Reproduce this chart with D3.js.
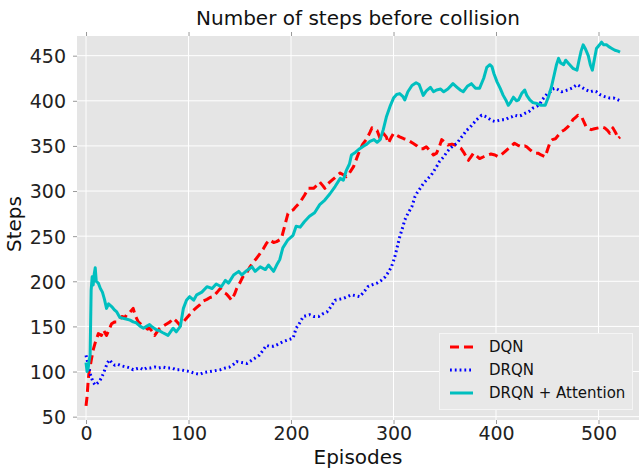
<!DOCTYPE html>
<html>
<head>
<meta charset="utf-8">
<script src="https://cdn.jsdelivr.net/npm/d3@7"></script>
<style>
  body { margin: 0; background: #fff; }
  text { font-family: "DejaVu Sans", sans-serif; }
</style>
</head>
<body>
<script>

var TITLE = "Number of steps before collision";
var X_LABEL = "Episodes";
var Y_LABEL = "Steps";

var xTicks = [0, 100, 200, 300, 400, 500];
var yTicks = [50, 100, 150, 200, 250, 300, 350, 400, 450];

var seriesNames = ["DQN", "DRQN", "DRQN + Attention"];

// DQN
var dqnEpisodes = [0,1,2,3,4,5,7,9,12,15,17,20,23,25,28,30,33,35,38,40,43,46,48,51,54,57,60,62,65,67,70,72,75,79,82,85,88,92,95,98,
    101,105,108,111,114,118,121,124,128,131,134,137,140,142,145,147,150,153,157,160,163,166,170,173,176,179,183,186,189,191,194,197,200,
    202,205,209,213,217,222,225,228,231,233,236,240,244,248,251,254,257,261,264,267,270,274,277,279,282,284,287,290,293,295,298,300,303,
    306,310,313,316,319,323,326,329,332,336,339,342,345,347,350,353,357,360,363,366,369,373,375,378,381,384,388,392,395,399,402,405,409,
    412,415,418,421,425,428,430,433,435,438,441,444,448,450,453,455,458,461,464,467,470,473,475,478,480,482,484,486,488,491,493,496,500,
    503,506,509,511,513,514,517,519,521];
var dqnSteps = [62,72,88,100,105,112,124,132,142,140,146,140,148,153,155,155,158,161,160,164,166,170,162,155,152,150,147,148,144,140,145,148,150,153,155,159,156,151,155,159,
    163,168,171,174,178,180,182,183,188,192,188,186,182,179,186,192,198,205,210,216,221,225,231,236,242,246,243,244,246,249,262,275,278,
    279,283,288,295,303,303,306,310,306,303,308,312,316,320,318,316,320,327,336,345,352,358,365,370,368,367,358,364,360,353,360,364,362,
    360,358,357,355,353,350,347,347,349,344,340,342,350,357,354,351,352,351,349,347,342,334,337,342,339,336,338,340,341,340,338,340,344,
    347,350,353,351,349,350,349,346,344,342,342,340,338,345,355,357,358,362,366,368,371,375,379,382,384,382,381,376,371,369,368,369,370,
    371,370,367,364,368,370,364,358,360];

// DRQN
var drqnEpisodes = [0,2,4,5,7,9,11,13,15,17,19,21,23,25,28,31,33,36,40,43,46,49,53,56,59,63,67,71,75,79,84,88,92,96,101,106,111,115,121,126,
    131,136,140,144,147,152,157,161,165,169,173,176,179,183,187,192,197,202,205,208,212,215,218,222,227,231,235,239,243,247,251,255,259,
    263,267,271,275,279,284,288,292,295,298,301,303,306,309,311,314,318,321,323,326,329,332,337,342,345,349,352,355,358,362,365,368,371,
    375,378,381,384,386,389,392,396,399,402,406,409,412,415,418,422,425,428,432,436,440,443,445,448,450,453,455,458,461,464,467,470,474,
    479,482,485,488,492,495,498,501,505,508,511,515,519,521];
var drqnSteps = [118,108,98,94,88,85,87,89,93,98,104,110,113,110,107,108,107,106,105,104,102,103,104,102,104,104,105,104,105,104,104,102,102,101,100,98,97,99,100,101,
    102,104,105,108,111,110,109,112,115,118,124,129,128,128,130,133,135,137,148,153,161,162,163,161,161,164,166,172,179,180,181,183,185,
    184,183,188,194,196,198,201,205,210,216,226,235,249,260,268,275,283,294,298,303,308,312,318,327,333,338,343,347,350,353,358,362,367,
    371,375,379,382,384,383,381,378,377,378,379,379,381,382,384,383,384,386,388,392,394,397,401,405,408,410,413,414,412,410,411,412,414,
    418,416,414,412,410,411,410,407,405,404,403,403,401,400];

// DRQN + Attention
var attEpisodes = [0,1,2,3,4,5,6,7,8,9,10,12,14,16,18,20,22,25,28,30,33,36,40,43,46,49,53,56,59,62,65,69,72,75,80,85,88,92,95,98,
    101,105,108,113,118,123,127,132,136,139,144,149,152,157,162,165,170,175,178,183,186,189,192,197,202,205,209,213,218,223,228,233,238,
    243,248,251,254,257,259,263,267,271,274,277,281,284,287,290,293,297,300,303,306,309,311,314,318,322,325,329,332,336,339,342,346,349,
    353,358,362,365,368,372,376,380,384,388,391,394,396,398,401,404,407,410,412,414,417,420,422,425,428,430,433,436,440,444,448,451,454,
    457,459,461,463,466,468,471,475,479,481,483,485,487,490,492,494,496,498,501,503,505,508,510,513,516,519,521];
var attSteps = [110,100,103,112,118,190,205,196,208,215,200,198,192,188,180,170,175,172,168,166,160,159,158,157,155,154,150,148,150,152,149,146,145,143,140,148,144,150,170,179,
    183,179,185,188,194,192,197,194,201,198,207,211,207,212,216,211,216,213,218,211,218,224,237,246,251,261,260,266,272,276,285,290,297,
    305,314,312,323,330,340,343,347,350,352,355,357,354,357,368,382,395,403,407,408,405,401,410,417,420,418,406,411,415,410,412,413,410,
    413,419,415,412,410,416,419,414,414,425,437,440,438,430,421,414,406,400,395,398,404,400,401,408,412,406,401,398,397,395,395,404,415,
    430,440,447,442,440,445,441,436,434,445,455,462,458,450,440,434,446,458,462,465,462,462,460,458,456,455,454];

var colors = ["#ff0000", "#0000ff", "#00bfbf"];
var dashes = ["9,5", "1.8,3", null];
var widths = [3, 3, 3];

var W = 639, H = 472;
var margin = { left: 77, right: 0, top: 36, bottom: 52 };

var svg = d3.select("body").append("svg")
    .attr("width", W)
    .attr("height", H);

var x = d3.scaleLinear()
    .domain([-8.8, 539.5])
    .range([margin.left, W - margin.right]);

var y = d3.scaleLinear()
    .domain([46.3, 471.8])
    .range([H - margin.bottom, margin.top]);

drawFrame();
drawLines();
drawLegend();

function drawFrame() {
    var x0 = x.range()[0], x1 = x.range()[1];
    var y0 = y.range()[0], y1 = y.range()[1];

    svg.append("rect")
        .attr("x", x0).attr("y", y1)
        .attr("width", x1 - x0).attr("height", y0 - y1)
        .attr("fill", "#e5e5e5");

    // grid
    svg.selectAll(".vgrid").data(xTicks).enter()
        .append("line")
        .attr("x1", function(d){ return x(d); })
        .attr("x2", function(d){ return x(d); })
        .attr("y1", y1).attr("y2", y0)
        .attr("stroke", "#fff").attr("stroke-width", 1);

    svg.selectAll(".hgrid").data(yTicks).enter()
        .append("line")
        .attr("x1", x0).attr("x2", x1)
        .attr("y1", function(d){ return y(d); })
        .attr("y2", function(d){ return y(d); })
        .attr("stroke", "#fff").attr("stroke-width", 1);

    // axes
    var xAxis = svg.append("g")
        .attr("transform", "translate(0," + y0 + ")")
        .call(d3.axisBottom(x).tickValues(xTicks).tickSize(4).tickPadding(4));
    var xTop = svg.append("g")
        .attr("transform", "translate(0," + y1 + ")")
        .call(d3.axisTop(x).tickValues(xTicks).tickSize(4).tickFormat(""));
    var yAxis = svg.append("g")
        .attr("transform", "translate(" + x0 + ",0)")
        .call(d3.axisLeft(y).tickValues(yTicks).tickSize(4).tickPadding(7));

    [xAxis, xTop, yAxis].forEach(function(g){
        g.select(".domain").remove();
        g.selectAll(".tick line").attr("stroke", "#999");
        g.selectAll(".tick text")
            .attr("fill", "#222")
            .style("font-size", "19px")
            .style("font-family", "DejaVu Sans");
    });
    xAxis.selectAll(".tick text").attr("dy", "0.71em").attr("y", 7);
    yAxis.selectAll(".tick text").attr("dy", "0.36em");

    svg.append("text")
        .attr("x", (x0 + x1) / 2).attr("y", 25)
        .attr("text-anchor", "middle")
        .attr("fill", "#111")
        .style("font-size", "20px")
        .text(TITLE);

    svg.append("text")
        .attr("x", (x0 + x1) / 2).attr("y", 464)
        .attr("text-anchor", "middle")
        .attr("fill", "#111")
        .style("font-size", "20px")
        .text(X_LABEL);

    svg.append("text")
        .attr("transform", "translate(21," + 224 + ") rotate(-90)")
        .attr("text-anchor", "middle")
        .attr("fill", "#111")
        .style("font-size", "20px")
        .text(Y_LABEL);

    svg.append("clipPath").attr("id", "plotclip")
        .append("rect")
        .attr("x", x0).attr("y", y1)
        .attr("width", x1 - x0).attr("height", y0 - y1);
}

function drawLines() {
    var eps = [dqnEpisodes, drqnEpisodes, attEpisodes];
    var vals = [dqnSteps, drqnSteps, attSteps];

    var line = d3.line()
        .x(function(d){ return x(d[0]); })
        .y(function(d){ return y(d[1]); });

    var g = svg.append("g").attr("clip-path", "url(#plotclip)");

    for (var i = 0; i < seriesNames.length; i++) {
        var pts = eps[i].map(function(e, j){ return [e, vals[i][j]]; });
        g.append("path")
            .datum(pts)
            .attr("d", line)
            .attr("fill", "none")
            .attr("stroke", colors[i])
            .attr("stroke-width", widths[i])
            .attr("stroke-dasharray", dashes[i])
            .attr("stroke-linejoin", "round");
    }
}

function drawLegend() {
    var lg = svg.append("g");
    lg.append("rect")
        .attr("x", 439.5).attr("y", 333.5)
        .attr("width", 193).attr("height", 76)
        .attr("fill", "#e8e8e8")
        .attr("stroke", "#f5f5f5")
        .attr("stroke-width", 1);

    var rowY = [347, 370, 393];
    for (var i = 0; i < seriesNames.length; i++) {
        lg.append("line")
            .attr("x1", 450).attr("x2", 473)
            .attr("y1", rowY[i]).attr("y2", rowY[i])
            .attr("stroke", colors[i])
            .attr("stroke-width", widths[i])
            .attr("stroke-dasharray", dashes[i]);
        lg.append("text")
            .attr("x", 489).attr("y", rowY[i])
            .attr("dy", "0.36em")
            .attr("fill", "#111")
            .style("font-size", "15px")
            .text(seriesNames[i]);
    }
}

</script>
</body>
</html>
